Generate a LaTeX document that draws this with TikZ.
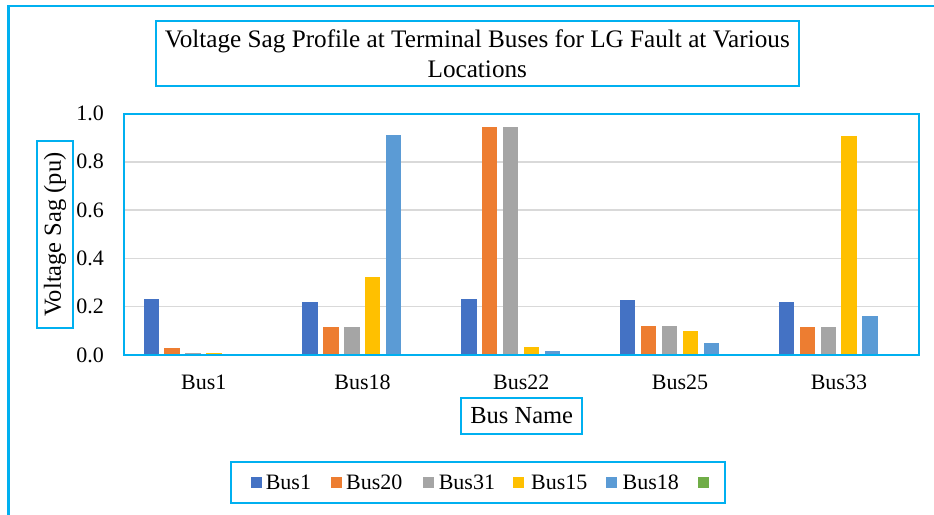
\documentclass[tikz,border=0pt]{standalone}
\usepackage{fontspec}
\setmainfont{Liberation Serif}
\definecolor{edge}{HTML}{00B0F0}
\definecolor{gridc}{HTML}{D9D9D9}
\definecolor{sA}{HTML}{4472C4}
\definecolor{sB}{HTML}{ED7D31}
\definecolor{sC}{HTML}{A5A5A5}
\definecolor{sD}{HTML}{FFC000}
\definecolor{sE}{HTML}{5B9BD5}
\definecolor{sF}{HTML}{70AD47}
\tikzset{
  panel/.style={draw=edge, line width=2pt, fill=white, inner sep=0pt},
  gridline/.style={draw=gridc, line width=1.5pt},
  ticklab/.style={anchor=east, inner sep=0pt, font=\fontsize{22}{26}\selectfont},
  catlab/.style={anchor=base, inner sep=0pt, font=\fontsize{22}{26}\selectfont},
  legtext/.style={anchor=base west, inner sep=0pt, font=\fontsize{22}{26}\selectfont},
  legkey/.style={minimum size=11pt, inner sep=0pt},
}
\begin{document}
\begin{tikzpicture}[x=1pt,y=-1pt]
\useasboundingbox (0,0) rectangle (934,514);
% chart area outline (open to the right and bottom)
\draw[edge, line width=2.5pt] (936,6) -- (8.5,6) -- (8.5,516);

% title
\node[panel, minimum width=643.3pt, minimum height=65pt, align=center,
      font=\fontsize{25.2}{29.7}\selectfont] (title) at (477.3,53.5)
  {Voltage Sag Profile at Terminal Buses for LG Fault at Various\\Locations};

% horizontal gridlines
\foreach \v in {0.2,0.4,0.6,0.8}
  \draw[gridline] (124.3,{355-241.5*\v}) -- (918.5,{355-241.5*\v});

% value axis labels
\foreach \v/\t [count=\j] in {0/0.0,0.2/0.2,0.4/0.4,0.6/0.6,0.8/0.8,1/1.0}
  \node[ticklab] (tick\j) at (104,{355-241.5*\v}) {\t};

% bars
\foreach \cat/\a/\b/\c/\d/\e [count=\i from 0] in {
    Bus1/0.232/0.028/0.010/0.009/0.004,
    Bus18/0.218/0.116/0.116/0.322/0.911,
    Bus22/0.230/0.944/0.944/0.034/0.018,
    Bus25/0.228/0.120/0.120/0.101/0.050,
    Bus33/0.219/0.116/0.116/0.908/0.160}{
  \pgfmathsetmacro{\cx}{124.3+158.8*(\i+0.5)}
  \foreach \val/\col [count=\k from 0] in {\a/sA,\b/sB,\c/sC,\d/sD,\e/sE}{
    \pgfmathsetmacro{\xl}{\cx-60.5+20.9*\k}
    \fill[\col] ({\xl+0.3},355) rectangle ({\xl+15.7},{355-241.5*\val});
  }
  \node[catlab] (cat\i) at (\cx,389.5) {\cat};
}

% plot frame drawn over the bars
\draw[edge, line width=2pt] (124.3,114) rectangle (918.5,355);

% axis titles
\node[panel, rotate=90, minimum width=187pt, minimum height=36.6pt,
      font=\fontsize{24.5}{28}\selectfont] (ytitle) at (55,234.5) {Voltage Sag (pu)};
\node[panel, minimum width=121.3pt, minimum height=36.3pt,
      font=\fontsize{24.5}{28}\selectfont] (xtitle) at (521.7,415.9) {Bus Name};

% legend
\node[panel, minimum width=494.4pt, minimum height=41pt] (legend) at (478,482.5) {};
\foreach \kx/\col/\t/\tx [count=\n] in {
    251/sA/Bus1/265.6, 330.5/sB/Bus20/346, 422.8/sC/Bus31/438.6,
    513.3/sD/Bus15/531, 606.3/sE/Bus18/622.5}{
  \node[legkey, fill=\col] (key\n) at ({\kx+5.5},482) {};
  \node[legtext] (lab\n) at (\tx,489.5) {\t};
}
\node[legkey, fill=sF] (key6) at (703.8,482) {};
\end{tikzpicture}
\end{document}
